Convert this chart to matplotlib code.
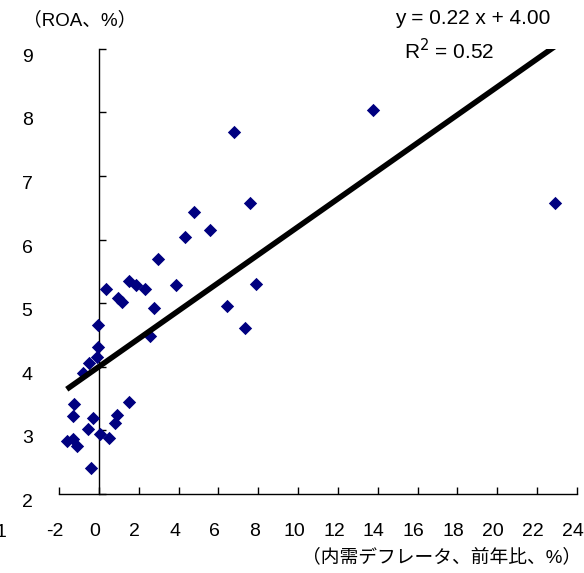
import numpy as np
import matplotlib
matplotlib.use('Agg')
import matplotlib.pyplot as plt
import matplotlib.transforms as mtransforms

plt.rcParams['font.family'] = ['Liberation Sans', 'Noto Sans CJK JP', 'DejaVu Sans']

# domestic demand deflator (yoy, %) vs ROA (%)
deflator = [-1.61, -1.31, -1.11, -1.26, -1.31, -0.40, -0.30, -0.55, 0.05, 0.50,
            0.90, 0.80, 1.51, -0.80, -0.50, -0.10, -0.05, -0.05, 0.35, 0.95,
            1.16, 1.51, 1.86, 2.31, 2.76, 2.56, 2.96, 3.87, 4.32, 4.77,
            5.58, 6.78, 7.59, 7.89, 6.43, 7.34, 13.77, 22.91]
roa = [2.83, 2.86, 2.75, 3.42, 3.23, 2.41, 3.19, 3.02, 2.94, 2.88,
       3.24, 3.12, 3.45, 3.90, 4.06, 4.15, 4.31, 4.66, 5.22, 5.08,
       5.02, 5.35, 5.28, 5.22, 4.93, 4.48, 5.70, 5.28, 6.04, 6.44,
       6.15, 7.69, 6.58, 5.30, 4.96, 4.61, 8.04, 6.58]
slope, intercept = 0.22, 4.00
r2 = 0.52

xticks = list(range(-2, 25, 2))
yticks = list(range(2, 10))

fig = plt.figure(figsize=(5.84, 5.73), dpi=100)
ax = fig.add_axes([0.101, 0.138, 0.887, 0.777])

ax.scatter(deflator, roa, marker='D', s=46, color='#000080', zorder=3, linewidths=0)
xl = np.array([min(deflator), max(deflator)])
ax.plot(xl, slope * xl + intercept, color='black', lw=4, solid_capstyle='butt', zorder=4)

ax.set_xlim(-2, 24)
ax.set_ylim(2, 9)

for key in ['top', 'right']:
    ax.spines[key].set_visible(False)
ax.spines['left'].set_position(('data', 0))
ax.spines['left'].set_linewidth(1)
ax.spines['bottom'].set_linewidth(1)

ax.set_xticks(xticks)
ax.set_xticklabels([str(v) for v in xticks])
ax.tick_params(axis='x', direction='in', length=5, width=1, pad=21, labelsize=14)
shift = mtransforms.ScaledTranslation(-4 / 100, 0, fig.dpi_scale_trans)
for lab in ax.get_xticklabels():
    lab.set_transform(lab.get_transform() + shift)

ax.set_yticks(yticks)
ax.tick_params(axis='y', direction='in', length=5, width=1, labelleft=False)

sec = ax.secondary_yaxis(0)
sec.set_yticks(yticks)
sec.set_yticklabels([str(v) for v in yticks])
sec.spines['left'].set_visible(False)
sec.tick_params(axis='y', length=0, pad=19, labelsize=14)
for lab in sec.get_yticklabels():
    lab.set_va('top')

fig.text(0.040, 0.965, '（ROA、%）', fontsize=13.5, ha='left', va='center')
fig.text(0.995, 0.028, '（内需デフレータ、前年比、%）', fontsize=13.5, ha='right', va='center')
fig.text(0.810, 0.968, f'y = {slope:.2f} x + {intercept:.2f}', fontsize=15, ha='center', va='center')
fig.text(0.770, 0.912, f'R$^2$ = {r2:.2f}', fontsize=15, ha='center', va='center')

# clipped remnant of a neighbouring tick label at the left edge
fig.text(0.011, 0.070, '1', fontsize=14, ha='right', va='center')

fig.savefig('out.png', dpi=100)
